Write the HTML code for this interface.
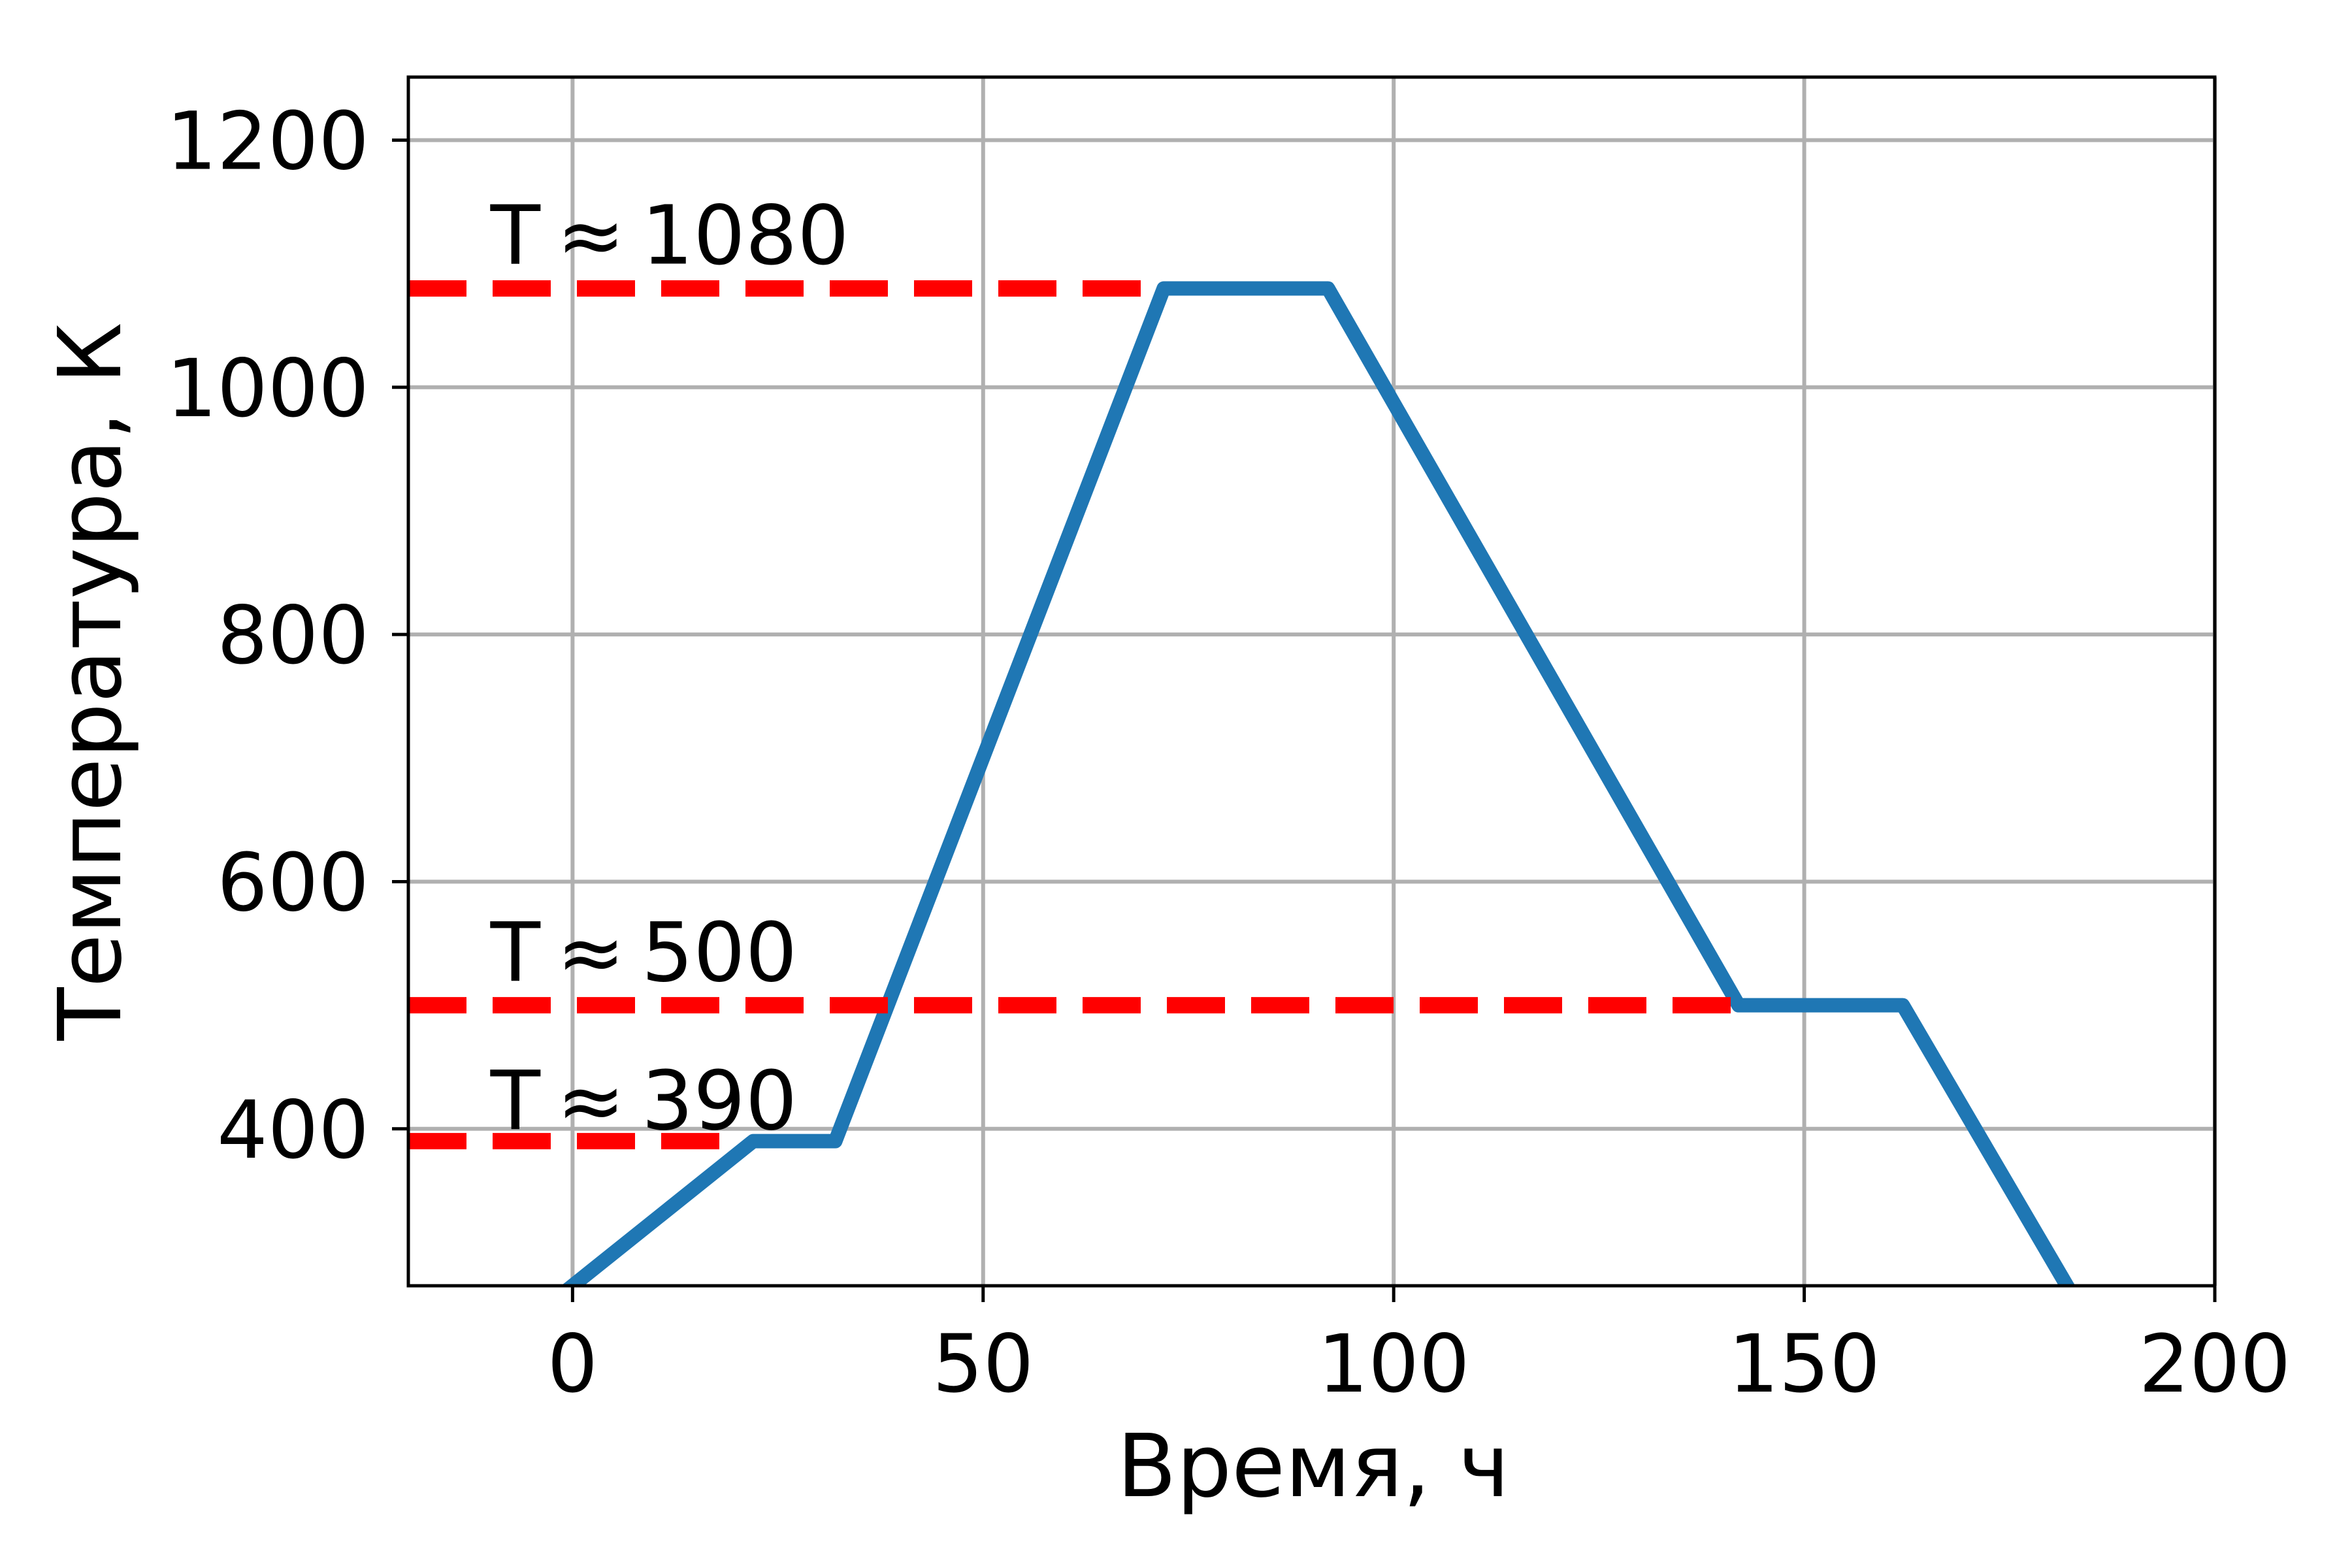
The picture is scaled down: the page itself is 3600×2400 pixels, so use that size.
<!DOCTYPE html>
<html><head><meta charset="utf-8"><style>html,body{margin:0;padding:0;background:#fff}svg{display:block}</style></head>
<body>
<svg id="chart" width="3600" height="2400" viewBox="0 0 3600 2400" xmlns="http://www.w3.org/2000/svg" font-family="DejaVu Sans, Liberation Sans, sans-serif">
<rect width="3600" height="2400" fill="#fff"/>
<defs><clipPath id="clip"><rect x="625" y="118" width="2765" height="1850"/></clipPath></defs>
<g id="grid"></g>
<g id="plot" clip-path="url(#clip)"></g>
<g id="axes"></g>
<text x="2010" y="2290" font-size="133" text-anchor="middle">Время, ч</text>
<text transform="translate(184,1043) rotate(-90)" font-size="133" text-anchor="middle">Температура, К</text>
</svg>
<script>
const xTicks=[0,50,100,150,200];
const yTicks=[400,600,800,1000,1200];
const timeVals=[0,22,32,72,92,142,162,182];
const tempVals=[273,390,390,1080,1080,500,500,273];
const refLevels=[1080,500,390];
const refEnds=[72,142,20];
const refLabels=["T\u2009≈\u20091080","T\u2009≈\u2009500","T\u2009≈\u2009390"];
const labelLevels=[1100,520,400];
const X0=625,X1=3390,Y0=1968,Y1=118,xmin=-20,xmax=200,ymin=273,ymax=1251;
const sx=v=>X0+(v-xmin)/(xmax-xmin)*(X1-X0);
const sy=v=>Y0-(v-ymin)/(ymax-ymin)*(Y0-Y1);
const NS="http://www.w3.org/2000/svg";
function mk(tag,attrs,parent){const e=document.createElementNS(NS,tag);for(const k in attrs)e.setAttribute(k,attrs[k]);parent.appendChild(e);return e;}
const grid=document.getElementById('grid'),plot=document.getElementById('plot'),axes=document.getElementById('axes');
xTicks.forEach(t=>{
 const l=mk('line',{x1:sx(t),x2:sx(t),y1:Y1,y2:Y0,stroke:'#b0b0b0','stroke-width':6},grid);
 
 
 const tk=mk('line',{x1:sx(t),x2:sx(t),y1:Y0,y2:Y0+25,stroke:'#000','stroke-width':5},axes);
 
 
 const tx=mk('text',{x:sx(t),y:2130,'font-size':122,'text-anchor':'middle'},axes);
 tx.textContent=t;
 
 
});
yTicks.forEach(t=>{
 const l=mk('line',{x1:X0,x2:X1,y1:sy(t),y2:sy(t),stroke:'#b0b0b0','stroke-width':6},grid);
 
 
 const tk=mk('line',{x1:X0-25,x2:X0,y1:sy(t),y2:sy(t),stroke:'#000','stroke-width':5},axes);
 
 
 const tx=mk('text',{x:X0-60,y:sy(t)+44,'font-size':122,'text-anchor':'end'},axes);
 tx.textContent=t;
 
 
});
const pts=timeVals.map((t,i)=>sx(t)+','+sy(tempVals[i])).join(' ');
const pl=mk('polyline',{points:pts,fill:'none',stroke:'#1f77b4','stroke-width':22,'stroke-linejoin':'round','stroke-linecap':'square'},plot);


refLevels.forEach((v,i)=>{
 const l=mk('line',{x1:sx(xmin),x2:sx(refEnds[i]),y1:sy(v),y2:sy(v),stroke:'#ff0000','stroke-width':25,'stroke-dasharray':'89 40'},plot);
 
 
 const tx=mk('text',{x:sx(-10),y:sy(labelLevels[i]),'font-size':125},axes);
 tx.textContent=refLabels[i];
 
 
});
const fr=mk('rect',{x:X0,y:Y1,width:X1-X0,height:Y0-Y1,fill:'none',stroke:'#000','stroke-width':5},axes);


</script>
</body></html>
